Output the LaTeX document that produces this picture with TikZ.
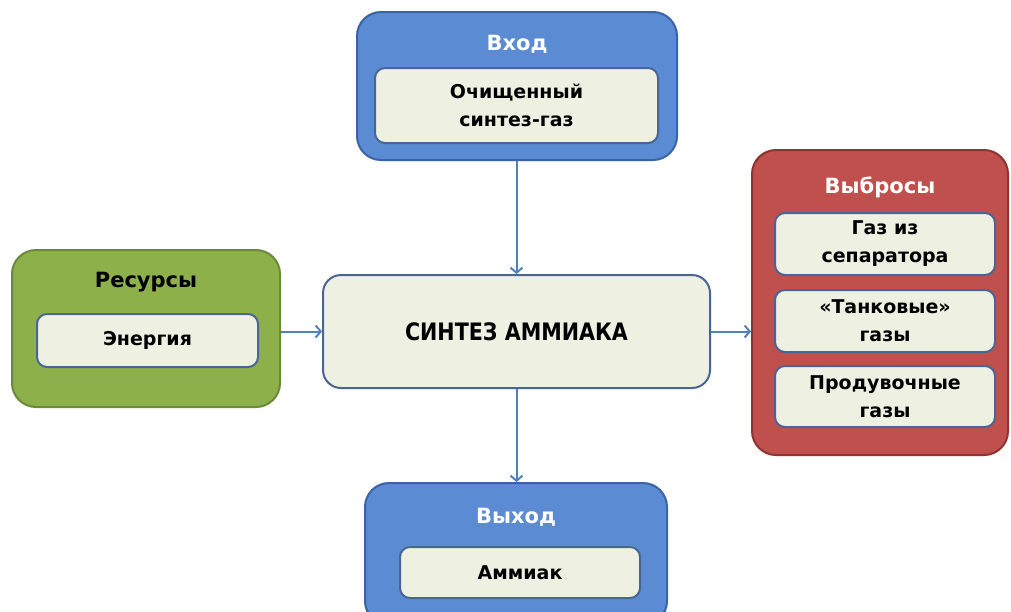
\documentclass[tikz,border=0pt]{standalone}
\usepackage{fontspec}
\setmainfont{DejaVu Sans}
\usepackage{graphicx}
\usetikzlibrary{arrows.meta}
\definecolor{blueF}{HTML}{5B8BD2}
\definecolor{blueD}{HTML}{3A62A6}
\definecolor{greenF}{HTML}{8DB04B}
\definecolor{greenD}{HTML}{6B8938}
\definecolor{redF}{HTML}{C0504D}
\definecolor{redD}{HTML}{8C3431}
\definecolor{innerF}{HTML}{EEF1E2}
\definecolor{innerD}{HTML}{4A6594}
\definecolor{arrowC}{HTML}{4F81BD}
\begin{document}
\begin{tikzpicture}[x=1pt,y=-1pt,
  outerbox/.style={draw, rounded corners=24pt, line width=2pt, inner sep=0pt},
  bluebox/.style={outerbox, fill=blueF, draw=blueD},
  greenbox/.style={outerbox, fill=greenF, draw=greenD},
  redbox/.style={outerbox, fill=redF, draw=redD},
  innerbox/.style={draw=innerD, fill=innerF, rounded corners=10pt, line width=2pt, inner sep=0pt, align=center, font=\bfseries\fontsize{19}{28}\selectfont},
  titlew/.style={text=white, font=\bfseries\fontsize{21}{24}\selectfont},
  titleb/.style={text=black, font=\bfseries\fontsize{21}{24}\selectfont},
  arr/.style={draw=arrowC, line width=2pt, -{Straight Barb[length=5pt,width=12pt]}}
]
\useasboundingbox (0,0) rectangle (1011,611);
\clip (0,0) rectangle (1011,611);
\fill[white] (0,0) rectangle (1011,611);

% top input
\node[bluebox, minimum width=320pt, minimum height=148pt] (in) at (517,86) {};
\node[titlew] (intitle) at (517,44) {Вход};
\node[innerbox, minimum width=283pt, minimum height=75pt] (ingas) at (516.5,105.5) {Очищенный\\синтез-газ};

% center
\node[draw=innerD, fill=innerF, rounded corners=18pt, line width=2pt, minimum width=387pt, minimum height=113pt, inner sep=0pt] (c) at (516.5,331.5)
  {\scalebox{0.86}[1]{\fontsize{24}{26}\selectfont\bfseries СИНТЕЗ АММИАКА}};

% left resources
\node[greenbox, minimum width=268pt, minimum height=157pt] (res) at (146,328.5) {};
\node[titleb] (restitle) at (146,282) {Ресурсы};
\node[innerbox, minimum width=221pt, minimum height=53pt] (en) at (147.5,340.5) {Энергия};

% right emissions
\node[redbox, minimum width=256pt, minimum height=305pt] (em) at (880,302.5) {};
\node[titlew] (emtitle) at (880,187) {Выбросы};
\node[innerbox, minimum width=220pt, minimum height=62pt] (e1) at (885,244) {Газ из\\сепаратора};
\node[innerbox, minimum width=220pt, minimum height=62pt] (e2) at (885,321) {«Танковые»\\газы};
\node[innerbox, minimum width=220pt, minimum height=61pt] (e3) at (885,396.5) {Продувочные\\газы};

% bottom output
\node[bluebox, minimum width=302pt, minimum height=142pt] (out) at (516,554) {};
\node[titlew] (outtitle) at (516,517) {Выход};
\node[innerbox, minimum width=240pt, minimum height=51pt] (am) at (520,572.5) {Аммиак};

% arrows
\draw[arr] (in.south -| c.north) -- (c.north);
\draw[arr] (c.south) -- (c.south |- out.north);
\draw[arr] (res.east |- c.west) -- (c.west);
\draw[arr] (c.east) -- (c.east -| em.west);
\end{tikzpicture}
\end{document}
